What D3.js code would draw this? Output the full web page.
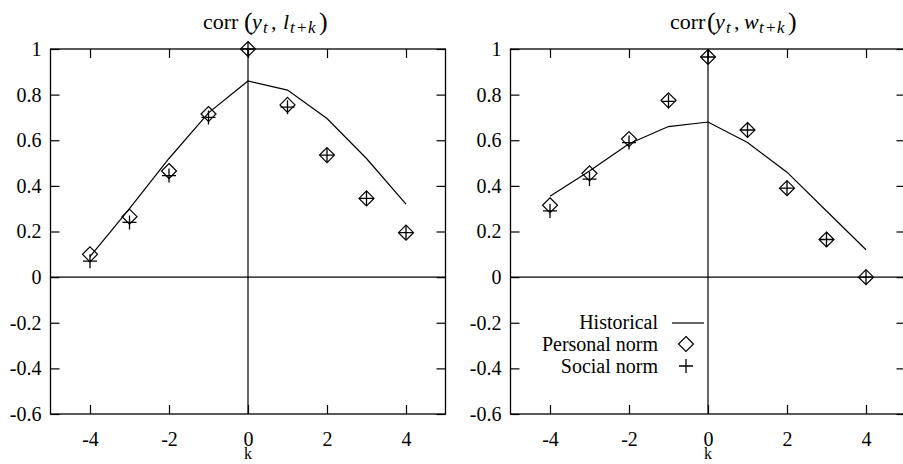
<!DOCTYPE html>
<html lang="en">
<head>
  <meta charset="utf-8">
  <title>corr panels</title>
  <script src="https://cdn.jsdelivr.net/npm/d3@7"></script>
  <style>
    body { margin: 0; background: #fff; }
    svg text { font-family: 'Liberation Serif', 'DejaVu Serif', serif !important; fill: #000; }
  </style>
</head>
<body>
<script>
// lags k and axis ticks
var lags = [-4, -3, -2, -1, 0, 1, 2, 3, 4];
var xTicks = [-4, -2, 0, 2, 4];
var xTickLabels = ["-4", "-2", "0", "2", "4"];
var yTicks = [1, 0.8, 0.6, 0.4, 0.2, 0, -0.2, -0.4, -0.6];
var yTickLabels = ["1", "0.8", "0.6", "0.4", "0.2", "0", "-0.2", "-0.4", "-0.6"];

// left panel: corr(y_t, l_t+k)
var histL     = [0.09, 0.30, 0.52, 0.72, 0.86, 0.82, 0.695, 0.52, 0.32];
var personalL = [0.10, 0.265, 0.465, 0.715, 1.00, 0.755, 0.535, 0.345, 0.195];
var socialL   = [0.07, 0.24, 0.445, 0.70, 1.00, 0.745, 0.535, 0.345, 0.195];

// right panel: corr(y_t, w_t+k)
var histR     = [0.355, 0.465, 0.585, 0.66, 0.68, 0.59, 0.46, 0.29, 0.12];
var personalR = [0.315, 0.455, 0.605, 0.775, 0.965, 0.645, 0.39, 0.165, 0.00];
var socialR   = [0.29, 0.43, 0.59, 0.77, 0.965, 0.645, 0.39, 0.165, 0.00];

var legendNames = ["Historical", "Personal norm", "Social norm"];

var W = 903, H = 464;
var FS = 20;
var SERIF = "'Liberation Serif', 'DejaVu Serif', serif";
var svg = d3.select("body").append("svg").attr("width", W).attr("height", H);

var y = d3.scaleLinear().domain([-0.6, 1]).range([414, 49]);

function diamondPath(cx, cy, r) {
  return "M" + cx + "," + (cy - r) + "L" + (cx + r) + "," + cy + "L" + cx + "," + (cy + r) + "L" + (cx - r) + "," + cy + "Z";
}
function plusPath(cx, cy, r) {
  return "M" + (cx - r) + "," + cy + "H" + (cx + r) + "M" + cx + "," + (cy - r) + "V" + (cy + r);
}

function panel(x0, x1, hist, pers, soc, title) {
  var x = d3.scaleLinear().domain([-5, 5]).range([x0, x1]);
  var g = svg.append("g");

  // frame
  g.append("rect").attr("x", x0).attr("y", y(1)).attr("width", x1 - x0).attr("height", y(-0.6) - y(1))
    .attr("fill", "none").attr("stroke", "#000").attr("stroke-width", 1.3);

  // inward ticks on all four sides
  var fmtY = function(d, i) { return yTickLabels[i]; };
  var fmtX = function(d, i) { return xTickLabels[i]; };
  var ax = [
    g.append("g").attr("transform", "translate(" + x0 + ",0)")
      .call(d3.axisLeft(y).tickValues(yTicks).tickFormat(fmtY).tickSize(-9).tickPadding(9)),
    g.append("g").attr("transform", "translate(" + x1 + ",0)")
      .call(d3.axisRight(y).tickValues(yTicks).tickFormat("").tickSize(-9)),
    g.append("g").attr("transform", "translate(0," + y(-0.6) + ")")
      .call(d3.axisBottom(x).tickValues(xTicks).tickFormat(fmtX).tickSize(-9).tickPadding(18)),
    g.append("g").attr("transform", "translate(0," + y(1) + ")")
      .call(d3.axisTop(x).tickValues(xTicks).tickFormat("").tickSize(-9))
  ];
  ax.forEach(function(a) {
    a.attr("font-family", null).attr("font-size", null);
    a.select(".domain").remove();
    a.selectAll("line").attr("stroke", "#000").attr("stroke-width", 1.2);
    a.selectAll("text").style("font-size", FS + "px").style("font-family", SERIF).attr("fill", "#000");
  });

  // zero axes
  g.append("line").attr("x1", x0).attr("x2", x1).attr("y1", y(0)).attr("y2", y(0))
    .attr("stroke", "#000").attr("stroke-width", 1.2);
  g.append("line").attr("x1", x(0)).attr("x2", x(0)).attr("y1", y(1)).attr("y2", y(-0.6))
    .attr("stroke", "#000").attr("stroke-width", 1.2);

  // historical line
  var line = d3.line().x(function(d, i) { return x(lags[i]); }).y(function(d) { return y(d); });
  g.append("path").datum(hist).attr("d", line).attr("fill", "none").attr("stroke", "#000").attr("stroke-width", 1.2);

  // personal norm diamonds
  g.selectAll(".pn").data(pers).enter().append("path")
    .attr("d", function(d, i) { return diamondPath(x(lags[i]), y(d), 7.5); })
    .attr("fill", "none").attr("stroke", "#000").attr("stroke-width", 1.2);

  // social norm crosses
  g.selectAll(".sn").data(soc).enter().append("path")
    .attr("d", function(d, i) { return plusPath(x(lags[i]), y(d), 7); })
    .attr("fill", "none").attr("stroke", "#000").attr("stroke-width", 1.3);

  // x label
  g.append("text").attr("x", x(0)).attr("y", 459).attr("text-anchor", "middle")
    .style("font-size", "16px").style("font-family", SERIF).text("k");

  // title
  title(g);
  return x;
}

// math title, pieces placed at offsets from the left of the title
function mathTitle(g, x0, lead, v, off) {
  var t = g.append("text").attr("y", 29).style("font-size", "22px").style("font-family", SERIF);
  var small = "17px", paren = "26px";
  t.append("tspan").attr("x", x0).text(lead);
  t.append("tspan").attr("x", x0 + off[0]).style("font-size", paren).attr("dy", 1).text("(");
  t.append("tspan").attr("x", x0 + off[1]).attr("font-style", "italic").attr("dy", -1).text("y");
  t.append("tspan").attr("x", x0 + off[2]).style("font-size", small).attr("font-style", "italic").attr("dy", 4).text("t");
  t.append("tspan").attr("x", x0 + off[3]).attr("dy", -4).text(",");
  t.append("tspan").attr("x", x0 + off[4]).attr("font-style", "italic").text(v);
  t.append("tspan").attr("x", x0 + off[5]).style("font-size", small).attr("font-style", "italic").attr("dy", 4).text("t");
  t.append("tspan").attr("x", x0 + off[6]).style("font-size", small).text("+");
  t.append("tspan").attr("x", x0 + off[7]).style("font-size", small).attr("font-style", "italic").text("k");
  t.append("tspan").attr("x", x0 + off[8]).style("font-size", paren).attr("dy", -3).text(")");
}

panel(50.5, 445.5, histL, personalL, socialL, function(g) {
  mathTitle(g, 203, "corr", "l", [41, 49, 60, 68, 80, 87, 94, 105, 116]);
});
panel(510.5, 905.5, histR, personalR, socialR, function(g) {
  mathTitle(g, 670, "corr", "w", [37, 45, 56, 64, 74, 89, 96, 107, 118]);
});

// legend
var lg = svg.append("g");
var legY = [323, 345, 367];
legendNames.forEach(function(name, i) {
  lg.append("text").attr("x", 658).attr("y", legY[i] + 6).attr("text-anchor", "end")
    .style("font-size", FS + "px").style("font-family", SERIF).text(name);
});
lg.append("line").attr("x1", 672).attr("x2", 704).attr("y1", legY[0]).attr("y2", legY[0])
  .attr("stroke", "#000").attr("stroke-width", 1.2);
lg.append("path").attr("d", diamondPath(686, legY[1] - 1, 7.5)).attr("fill", "none").attr("stroke", "#000").attr("stroke-width", 1.2);
lg.append("path").attr("d", plusPath(686, legY[2] - 1, 7)).attr("fill", "none").attr("stroke", "#000").attr("stroke-width", 1.3);
</script>
</body>
</html>
